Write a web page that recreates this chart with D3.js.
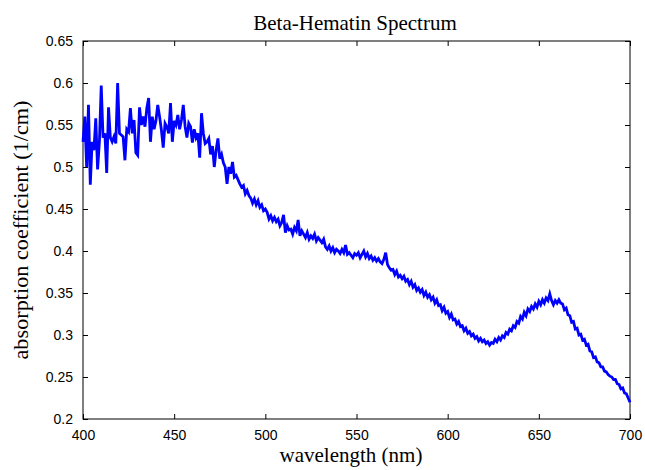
<!DOCTYPE html>
<html>
<head>
<meta charset="utf-8">
<script src="https://cdn.jsdelivr.net/npm/d3@7"></script>
<style>
  body { margin: 0; background: #fff; }
  .tick text { font-family: "Liberation Sans", Arial, sans-serif; font-size: 14px; fill: #000; }
  .tick line { stroke: #000; }
  .label { font-family: "Liberation Serif", "Times New Roman", serif; fill: #000; }
</style>
</head>
<body>
<div id="chart"></div>
<script>
// wavelength sampling, 1 nm steps from 400 to 700
var startNm = 400
var stepNm = 1

// absorption coefficient (1/cm)
var absorption = [
  0.530, 0.560, 0.500, 0.574, 0.479, 0.530, 0.520, 0.558, 0.497, 0.530,
  0.597, 0.535, 0.540, 0.493, 0.571, 0.535, 0.530, 0.536, 0.528, 0.600,
  0.540, 0.538, 0.536, 0.508, 0.545, 0.542, 0.570, 0.540, 0.556, 0.517,
  0.514, 0.571, 0.550, 0.560, 0.548, 0.570, 0.582, 0.530, 0.560, 0.545,
  0.555, 0.574, 0.560, 0.544, 0.523, 0.552, 0.548, 0.540, 0.576, 0.530,
  0.555, 0.550, 0.562, 0.545, 0.556, 0.574, 0.548, 0.535, 0.552, 0.548,
  0.529, 0.545, 0.535, 0.540, 0.511, 0.564, 0.540, 0.528, 0.530, 0.534,
  0.515, 0.525, 0.500, 0.520, 0.534, 0.510, 0.515, 0.505, 0.500, 0.480,
  0.500, 0.492, 0.506, 0.488, 0.490, 0.485, 0.480, 0.476, 0.478, 0.468,
  0.472, 0.466, 0.463, 0.457, 0.462, 0.455, 0.460, 0.452, 0.455, 0.448,
  0.450, 0.446, 0.438, 0.442, 0.436, 0.440, 0.435, 0.438, 0.430, 0.434,
  0.443, 0.422, 0.430, 0.425, 0.426, 0.420, 0.428, 0.424, 0.437, 0.418,
  0.424, 0.420, 0.416, 0.422, 0.414, 0.418, 0.415, 0.420, 0.412, 0.416,
  0.413, 0.410, 0.414, 0.405, 0.402, 0.406, 0.400, 0.404, 0.398, 0.402,
  0.400, 0.397, 0.402, 0.398, 0.407, 0.396, 0.398, 0.395, 0.392, 0.397,
  0.395, 0.398, 0.392, 0.396, 0.400, 0.393, 0.397, 0.391, 0.394, 0.389,
  0.392, 0.388, 0.391, 0.387, 0.385, 0.390, 0.398, 0.384, 0.380, 0.377,
  0.378, 0.372, 0.376, 0.369, 0.371, 0.367, 0.370, 0.364, 0.366, 0.360,
  0.364, 0.357, 0.360, 0.353, 0.356, 0.351, 0.354, 0.347, 0.351, 0.345,
  0.348, 0.342, 0.345, 0.338, 0.342, 0.335, 0.336, 0.329, 0.333, 0.326,
  0.328, 0.321, 0.325, 0.318, 0.319, 0.313, 0.316, 0.310, 0.311, 0.305,
  0.308, 0.302, 0.304, 0.299, 0.301, 0.296, 0.298, 0.293, 0.296, 0.292,
  0.294, 0.290, 0.292, 0.288, 0.291, 0.290, 0.295, 0.292, 0.297, 0.294,
  0.299, 0.297, 0.303, 0.301, 0.307, 0.305, 0.311, 0.309, 0.316, 0.314,
  0.322, 0.319, 0.327, 0.323, 0.331, 0.328, 0.334, 0.331, 0.337, 0.333,
  0.340, 0.336, 0.342, 0.338, 0.344, 0.341, 0.349, 0.341, 0.336, 0.341,
  0.338, 0.342, 0.338, 0.337, 0.330, 0.332, 0.324, 0.323, 0.315, 0.316,
  0.307, 0.308, 0.300, 0.301, 0.294, 0.295, 0.288, 0.289, 0.281, 0.280,
  0.273, 0.274, 0.268, 0.267, 0.262, 0.262, 0.257, 0.256, 0.253, 0.251,
  0.250, 0.247, 0.247, 0.242, 0.241, 0.236, 0.237, 0.231, 0.230, 0.225,
  0.220
]

var xTicks = [400, 450, 500, 550, 600, 650, 700]
var yTicks = [0.2, 0.25, 0.3, 0.35, 0.4, 0.45, 0.5, 0.55, 0.6, 0.65]

var data = absorption.map((v, i) => ({ nm: startNm + i * stepNm, a: v }))
var xAccessor = d => d.nm
var yAccessor = d => d.a

let dimensions = {
  width: 645,
  height: 470,
  margin: { top: 41, right: 15, bottom: 51, left: 83 },
}
dimensions.boundedWidth = dimensions.width - dimensions.margin.left - dimensions.margin.right
dimensions.boundedHeight = dimensions.height - dimensions.margin.top - dimensions.margin.bottom

var svg = d3.select("#chart")
  .append("svg")
  .attr("width", dimensions.width)
  .attr("height", dimensions.height)

var bounds = svg.append("g")
  .attr("transform", `translate(${dimensions.margin.left},${dimensions.margin.top})`)

var xScale = d3.scaleLinear()
  .domain([400, 700])
  .range([0, dimensions.boundedWidth])

var yScale = d3.scaleLinear()
  .domain([0.2, 0.65])
  .range([dimensions.boundedHeight, 0])

// axes, ticks pointing inwards like matlab
var fmt = d3.format("")
var xAxis = bounds.append("g")
  .attr("transform", `translate(0,${dimensions.boundedHeight})`)
  .call(d3.axisBottom(xScale).tickValues(xTicks).tickFormat(fmt).tickSizeInner(-5).tickSizeOuter(0).tickPadding(11))
var xAxisTop = bounds.append("g")
  .call(d3.axisTop(xScale).tickValues(xTicks).tickFormat("").tickSizeInner(-5).tickSizeOuter(0))
var yAxis = bounds.append("g")
  .call(d3.axisLeft(yScale).tickValues(yTicks).tickFormat(fmt).tickSizeInner(-5).tickSizeOuter(0).tickPadding(10))
var yAxisRight = bounds.append("g")
  .attr("transform", `translate(${dimensions.boundedWidth},0)`)
  .call(d3.axisRight(yScale).tickValues(yTicks).tickFormat("").tickSizeInner(-5).tickSizeOuter(0))

bounds.selectAll(".domain").remove()

bounds.append("rect")
  .attr("width", dimensions.boundedWidth)
  .attr("height", dimensions.boundedHeight)
  .attr("fill", "none")
  .attr("stroke", "#000")
  .attr("stroke-width", 1)

var lineGenerator = d3.line()
  .x(d => xScale(xAccessor(d)))
  .y(d => yScale(yAccessor(d)))

bounds.append("path")
  .attr("d", lineGenerator(data))
  .attr("fill", "none")
  .attr("stroke", "#0000ff")
  .attr("stroke-width", 2.8)
  .attr("stroke-linejoin", "miter")

// title and axis labels
svg.append("text")
  .attr("class", "label")
  .attr("x", 355)
  .attr("y", 30)
  .attr("text-anchor", "middle")
  .style("font-size", "21px")
  .text("Beta-Hematin Spectrum")

svg.append("text")
  .attr("class", "label")
  .attr("x", 351)
  .attr("y", 462)
  .attr("text-anchor", "middle")
  .style("font-size", "21px")
  .text("wavelength (nm)")

svg.append("text")
  .attr("class", "label")
  .attr("transform", `translate(28,${dimensions.margin.top + dimensions.boundedHeight / 2}) rotate(-90) scale(1.06,1)`)
  .attr("text-anchor", "middle")
  .style("font-size", "21px")
  .text("absorption coefficient (1/cm)")
</script>
</body>
</html>
